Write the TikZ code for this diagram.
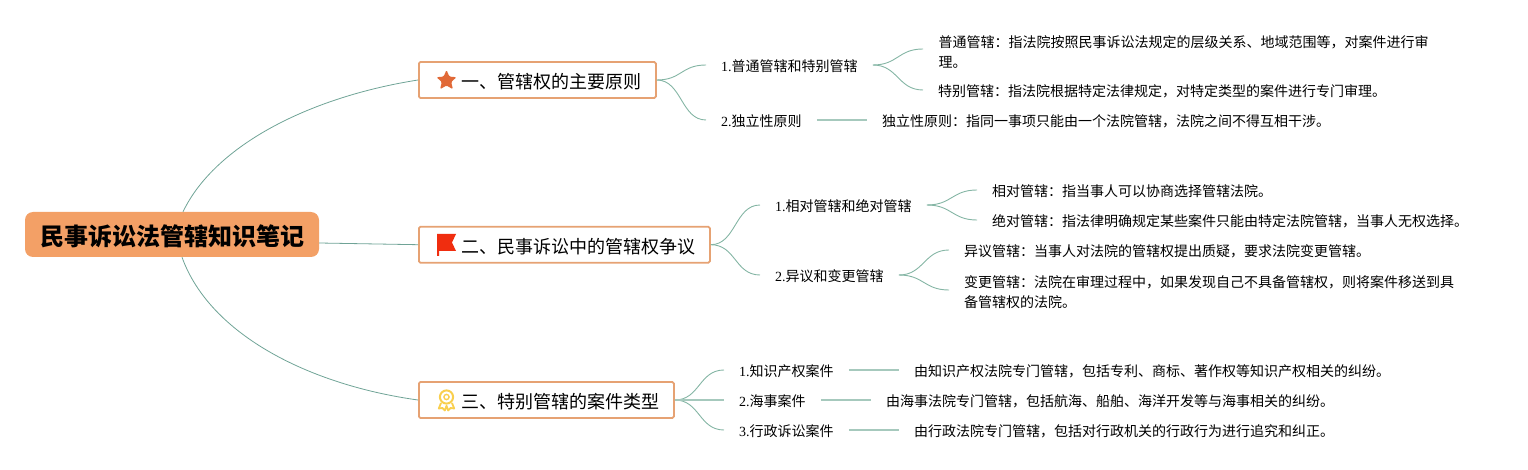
\documentclass[tikz,border=0pt]{standalone}
\usepackage{fontspec}
\setmainfont{Noto Sans CJK SC}
\newfontfamily\latf{Liberation Serif}
\usetikzlibrary{shapes.geometric,calc}
\tikzset{
  x=1pt,y=-1pt,
  rootbox/.style={draw=none,fill=rootfill,rounded corners=8pt,minimum width=294pt,minimum height=45pt,inner sep=0pt,font=\fontsize{24}{28}\selectfont\bfseries,text=black,text height=22pt,text depth=0pt},
  topicbox/.style={draw=boxline,line width=1.8pt,fill=white,rounded corners=1.5pt,minimum height=36pt,inner sep=0pt,anchor=west},
  topictext/.style={anchor=west,inner sep=0pt,font=\fontsize{18}{22}\selectfont,text=black},
  item/.style={anchor=west,inner xsep=15pt,inner ysep=0pt,font=\fontsize{14}{20}\selectfont,text=black,text height=14.5pt,text depth=1.5pt},
  multi/.style={anchor=west,inner xsep=15pt,inner ysep=0pt,font=\fontsize{14}{20}\selectfont,text=black,align=left},
  curve/.style={draw=linecol,line width=0.9pt},
  straight/.style={draw=linelight,line width=1.5pt},
  mainline/.style={draw=linedark,line width=0.8pt},
}
\definecolor{rootfill}{HTML}{F3A066}
\definecolor{boxline}{HTML}{E6A273}
\definecolor{linecol}{HTML}{84B5A4}
\definecolor{linelight}{HTML}{A6C9BD}
\definecolor{linedark}{HTML}{6FA396}
\definecolor{medal}{HTML}{F9CF4E}
\newcommand{\sbranch}[2]{\draw[curve] (#1) .. controls ($(#1)+(25,0)$) and ($(#2)+(-25,0)$) .. (#2);}
\begin{document}
\begin{tikzpicture}
\useasboundingbox (0,0) rectangle (1528,470);
% root
\node[rootbox] (root) at (172,234.5) {民事诉讼法管辖知识笔记};
% topics
\node[topicbox,minimum width=237pt] (t1) at (418,80) {};
\node[topicbox,minimum width=291pt] (t2) at (418,244.7) {};
\node[topicbox,minimum width=255pt] (t3) at (418,400) {};
\node[topictext] (t1t) at (461,82) {一、管辖权的主要原则};
\node[topictext] (t2t) at (461,247) {二、民事诉讼中的管辖权争议};
\node[topictext] (t3t) at (461,402) {三、特别管辖的案件类型};
% icons
\fill[rounded corners=1.2pt,fill={rgb,255:red,225;green,105;blue,55}]
  (446.5,70) -- (449.4,76.6) -- (456.5,77.2) -- (451.2,82) -- (452.9,89.2) -- (446.5,85.5) -- (440.1,89.2) -- (441.8,82) -- (436.5,77.2) -- (443.6,76.6) -- cycle;
\fill[fill={rgb,255:red,240;green,45;blue,15}] (437,234) -- (456,234) -- (452,242.5) -- (456,251) -- (439,251) -- (439,256) -- (437,256) -- cycle;
\draw[draw=medal,line width=2pt] (446.5,397) circle (6.6pt);
\draw[draw=medal,line width=1.4pt] (446.5,397) circle (2.6pt);
\draw[draw=medal,line width=1.8pt,line join=round] (441,403) -- (438.8,408.5) -- (442.5,408) -- (444.8,410.5) -- (446.5,405.8) -- (448.2,410.5) -- (450.5,408) -- (454.2,408.5) -- (452,403);
% level 2
\node[item] (a1) at (706,65) {{\latf 1.}普通管辖和特别管辖};
\node[item] (a2) at (706,120) {{\latf 2.}独立性原则};
\node[item] (b1) at (760,205) {{\latf 1.}相对管辖和绝对管辖};
\node[item] (b2) at (760,275) {{\latf 2.}异议和变更管辖};
\node[item] (c1) at (724,370) {{\latf 1.}知识产权案件};
\node[item] (c2) at (724,400) {{\latf 2.}海事案件};
\node[item] (c3) at (724,430) {{\latf 3.}行政诉讼案件};
% leaves
\node[multi] (a11) at (923.5,52) {普通管辖：指法院按照民事诉讼法规定的层级关系、地域范围等，对案件进行审\\理。};
\node[item] (a12) at (923,90) {特别管辖：指法院根据特定法律规定，对特定类型的案件进行专门审理。};
\node[item] (a21) at (867,120) {独立性原则：指同一事项只能由一个法院管辖，法院之间不得互相干涉。};
\node[item] (b11) at (977,190) {相对管辖：指当事人可以协商选择管辖法院。};
\node[item] (b12) at (977,220) {绝对管辖：指法律明确规定某些案件只能由特定法院管辖，当事人无权选择。};
\node[item] (b21) at (949,250) {异议管辖：当事人对法院的管辖权提出质疑，要求法院变更管辖。};
\node[multi] (b22) at (949,292) {变更管辖：法院在审理过程中，如果发现自己不具备管辖权，则将案件移送到具\\备管辖权的法院。};
\node[item] (c11) at (899,370) {由知识产权法院专门管辖，包括专利、商标、著作权等知识产权相关的纠纷。};
\node[item] (c21) at (871,400) {由海事法院专门管辖，包括航海、船舶、海洋开发等与海事相关的纠纷。};
\node[item] (c31) at (899,430) {由行政法院专门管辖，包括对行政机关的行政行为进行追究和纠正。};
% root connectors
\draw[mainline] ([xshift=11pt]root.north) .. controls (215,145) and (310,97) .. (t1.west);
\draw[mainline] ([yshift=-8.5pt]root.east) -- (t2.west);
\draw[mainline] ([xshift=10pt]root.south) .. controls (210,335) and (310,385) .. (t3.west);
% level 1 to level 2
\sbranch{t1.east}{a1.west}
\sbranch{t1.east}{a2.west}
\sbranch{t2.east}{b1.west}
\sbranch{t2.east}{b2.west}
\sbranch{t3.east}{c1.west}
\sbranch{t3.east}{c3.west}
\draw[straight] (t3.east) -- (c2.west);
% level 2 to leaves
\sbranch{a1.east}{$(a11.west)+(-0.5,-3)$}
\sbranch{a1.east}{a12.west}
\draw[straight] (a2.east) -- (a21.west);
\sbranch{b1.east}{b11.west}
\sbranch{b1.east}{b12.west}
\sbranch{b2.east}{b21.west}
\sbranch{b2.east}{$(b22.west)+(0,-2)$}
\draw[straight] (c1.east) -- (c11.west);
\draw[straight] (c2.east) -- (c21.west);
\draw[straight] (c3.east) -- (c31.west);
\end{tikzpicture}
\end{document}
